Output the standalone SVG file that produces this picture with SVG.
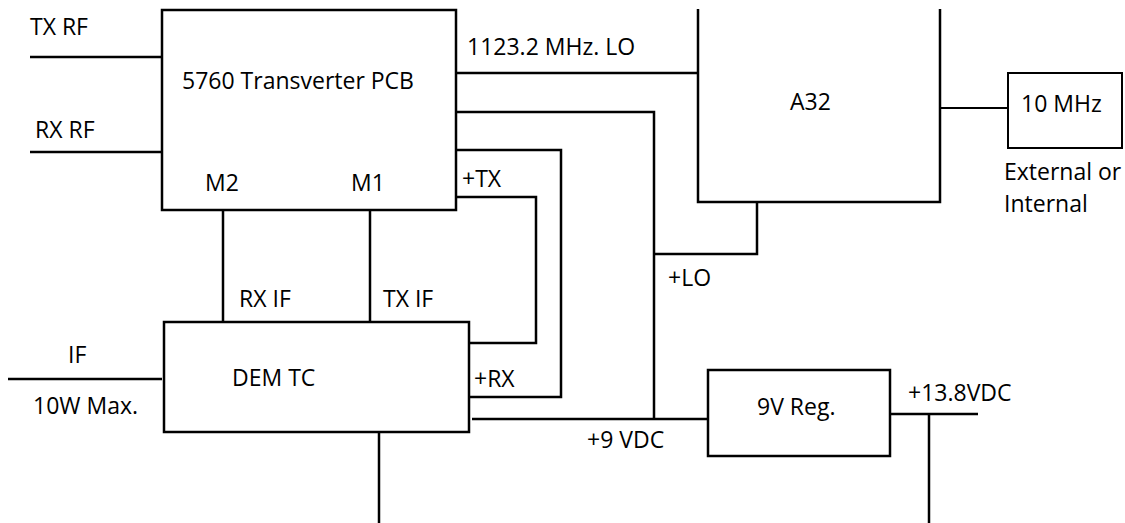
<svg xmlns="http://www.w3.org/2000/svg" width="1125" height="523" viewBox="0 0 1125 523">
<style>
.box{fill:#fff;stroke:#000;stroke-width:2.5}
.ln{fill:none;stroke:#000;stroke-width:2.5}
.thin{fill:none;stroke:#000;stroke-width:2}
text{font-family:"Open Sans","Liberation Sans",sans-serif;font-size:23px;fill:#000}
</style>
<rect width="1125" height="523" fill="#fff"/>
<g id="connectors">
<path class="ln" d="M30,57 H162"/>
<path class="ln" d="M30,152 H162"/>
<path class="ln" d="M456,73 H698"/>
<path class="ln" d="M456,112 H654 V419"/>
<path class="ln" d="M757,202 V254 H654"/>
<path class="ln" d="M456,150 H561 V397 H469"/>
<path class="ln" d="M456,197 H536 V343 H469"/>
<path class="ln" d="M223,210 V322"/>
<path class="ln" d="M370,210 V322"/>
<path class="ln" d="M8,379 H162"/>
<path class="ln" d="M472,419 H708"/>
<path class="ln" d="M379,432 V523"/>
<path class="thin" d="M940,108 H1008"/>
<path class="ln" d="M890,414 H978"/>
<path class="ln" d="M929,414 V523"/>
</g>
<g id="pcb">
<rect class="box" x="162" y="10" width="294" height="200"/>
<text x="182" y="89">5760 Transverter PCB</text>
<text x="205" y="191">M2</text>
<text x="351" y="191">M1</text>
</g>
<g id="a32">
<path class="ln" d="M698,9 V202 H940 V9"/>
<text x="790" y="110">A32</text>
</g>
<g id="dem">
<rect class="box" x="164" y="322" width="305" height="110"/>
<text x="232" y="386">DEM TC</text>
</g>
<g id="reg">
<rect class="box" x="708" y="370" width="182" height="86"/>
<text x="757" y="415">9V Reg.</text>
</g>
<g id="osc">
<rect class="thin" x="1008" y="73" width="114" height="75"/>
<text x="1021" y="112">10 MHz</text>
</g>
<g id="labels">
<text x="30" y="35">TX RF</text>
<text x="35" y="138">RX RF</text>
<text x="467" y="55">1123.2 MHz. LO</text>
<text x="462" y="187">+TX</text>
<text x="474" y="387">+RX</text>
<text x="668" y="286">+LO</text>
<text x="239" y="307">RX IF</text>
<text x="383" y="307">TX IF</text>
<text x="68" y="363">IF</text>
<text x="33" y="414">10W Max.</text>
<text x="587" y="448">+9 VDC</text>
<text x="908" y="401">+13.8VDC</text>
<text x="1004" y="180">External or</text>
<text x="1004" y="212">Internal</text>
</g>
</svg>
